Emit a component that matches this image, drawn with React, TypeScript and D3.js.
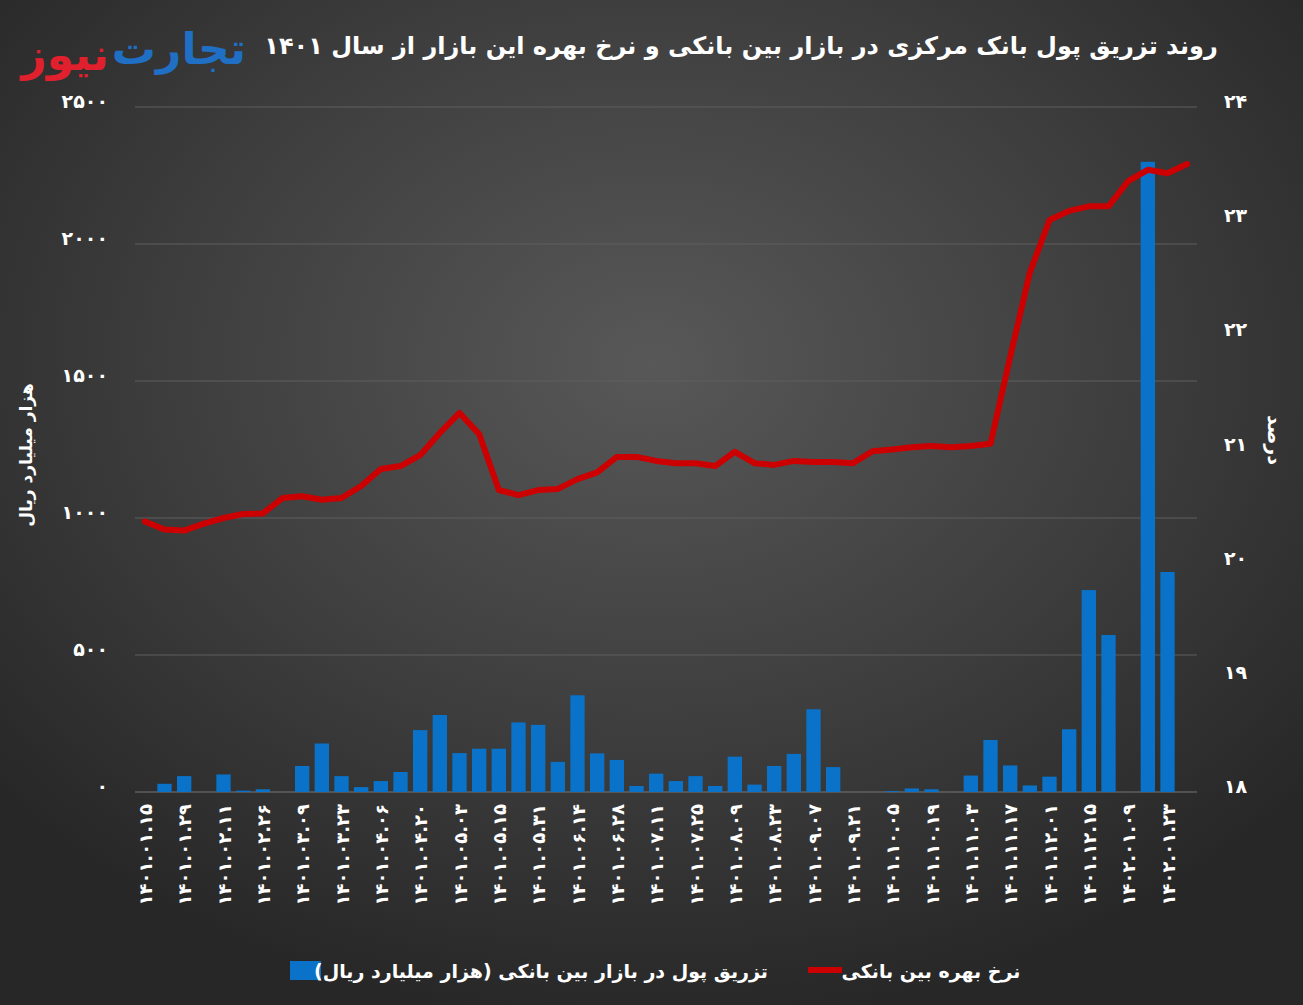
import React from "react";
import * as d3 from "d3";

const categories: string[] = [
  "1401.01.15", "1401.01.22", "1401.01.29", "1401.02.05", "1401.02.11", "1401.02.19",
  "1401.02.26", "1401.03.02", "1401.03.09", "1401.03.16", "1401.03.23", "1401.03.30",
  "1401.04.06", "1401.04.13", "1401.04.20", "1401.04.27", "1401.05.03", "1401.05.10",
  "1401.05.15", "1401.05.24", "1401.05.31", "1401.06.07", "1401.06.14", "1401.06.21",
  "1401.06.28", "1401.07.04", "1401.07.11", "1401.07.18", "1401.07.25", "1401.08.02",
  "1401.08.09", "1401.08.16", "1401.08.23", "1401.08.30", "1401.09.07", "1401.09.14",
  "1401.09.21", "1401.09.28", "1401.10.05", "1401.10.12", "1401.10.19", "1401.10.26",
  "1401.11.03", "1401.11.10", "1401.11.17", "1401.11.24", "1401.12.01", "1401.12.08",
  "1401.12.15", "1401.12.22", "1402.01.09", "1402.01.16", "1402.01.23", "1402.01.30",
];

// Injection (thousand billion rials)
const injection: (number | null)[] = [
  0, 30, 58, 0, 64, 5, 10, 0, 95, 177, 58, 18,
  40, 73, 226, 281, 142, 158, 158, 254, 245, 110, 353, 141,
  117, 22, 67, 40, 58, 22, 129, 27, 95, 139, 302, 91,
  0, 0, 3, 13, 10, 0, 60, 190, 97, 24, 56, 229,
  737, 573, 0, 2300, 803, 0,
];

// Interbank rate (percent)
const rate: number[] = [
  20.37, 20.3, 20.29, 20.35, 20.4, 20.435, 20.44, 20.575, 20.59, 20.56, 20.575, 20.68,
  20.83, 20.855, 20.95, 21.145, 21.32, 21.135, 20.645, 20.6, 20.645, 20.655, 20.74, 20.8,
  20.935, 20.935, 20.9, 20.88, 20.88, 20.855, 20.98, 20.88, 20.865, 20.9, 20.89, 20.89,
  20.88, 20.985, 21.0, 21.02, 21.03, 21.02, 21.03, 21.05, 21.81, 22.55, 23.01, 23.09,
  23.13, 23.13, 23.35, 23.45, 23.42, 23.5,
];

const leftTicks: number[] = [0, 500, 1000, 1500, 2000, 2500];
const rightTicks: number[] = [18, 19, 20, 21, 22, 23, 24];

const titleText = "روند تزریق پول بانک مرکزی در بازار بین بانکی و نرخ بهره این بازار از سال ۱۴۰۱";
const leftAxisTitle = "هزار میلیارد ریال";
const rightAxisTitle = "درصد";
const legendBars = "تزریق پول در بازار بین بانکی (هزار میلیارد ریال)";
const legendLine = "نرخ بهره بین بانکی";

const fa = (s: string | number) =>
  String(s).replace(/[0-9]/g, (d) => "۰۱۲۳۴۵۶۷۸۹"[+d]);

const W = 1303;
const H = 1005;
const plotL = 135;
const plotR = 1197;
const plotT = 107;
const plotB = 792;

const FONT = "'DejaVu Sans', sans-serif";

export default function App() {
  const x = d3.scaleBand<string>().domain(categories).range([plotL, plotR]).paddingInner(0.27).paddingOuter(0.135);
  const yL = d3.scaleLinear().domain([0, 2500]).range([plotB, plotT]);
  const yR = d3.scaleLinear().domain([18, 24]).range([plotB, plotT]);
  const bw = x.bandwidth();
  const cx = (c: string) => (x(c) as number) + bw / 2;

  const line = d3
    .line<number>()
    .x((_, i) => cx(categories[i]))
    .y((d) => yR(d))
    .curve(d3.curveLinear);

  return (
    <svg width={W} height={H} style={{ display: "block", position: "absolute", left: 0, top: 0 }}>
      <defs>
        <radialGradient id="bg" cx="50%" cy="36%" r="66%">
          <stop offset="0%" stopColor="#585858" />
          <stop offset="55%" stopColor="#3e3e3e" />
          <stop offset="100%" stopColor="#272727" />
        </radialGradient>
      </defs>
      <rect x={0} y={0} width={W} height={H} fill="url(#bg)" />

      {/* Logo */}
      <text x={179} y={64} fill="#1f6fc4" fontFamily={FONT} fontWeight={900} fontSize={44} textAnchor="middle">
        تجارت
      </text>
      <text x={65} y={70} fill="#e0202c" fontFamily={FONT} fontWeight={900} fontSize={44} textAnchor="middle">
        نیوز
      </text>

      {/* Title */}
      <text x={741} y={54} fill="#ffffff" fontFamily={FONT} fontWeight="bold" fontSize={24} textAnchor="middle" direction="rtl">
        {titleText}
      </text>

      {/* Gridlines */}
      {leftTicks.map((t) => (
        <line key={t} x1={plotL} x2={plotR} y1={yL(t)} y2={yL(t)} stroke={t === 0 ? "#777" : "#5e5e5e"} strokeWidth={1} />
      ))}

      {/* Left tick labels */}
      {leftTicks.map((t) => (
        <text key={"l" + t} x={108} y={yL(t) + 1} fill="#fff" fontFamily={FONT} fontWeight="bold" fontSize={19} textAnchor="end">
          {fa(t)}
        </text>
      ))}
      {/* Right tick labels */}
      {rightTicks.map((t) => (
        <text key={"r" + t} x={1224} y={yR(t) + 1} fill="#fff" fontFamily={FONT} fontWeight="bold" fontSize={19} textAnchor="start">
          {fa(t)}
        </text>
      ))}

      {/* Axis titles */}
      <text transform="translate(32,455) rotate(-90)" fill="#fff" fontFamily={FONT} fontSize={17} fontWeight="bold" textAnchor="middle" direction="rtl">
        {leftAxisTitle}
      </text>
      <text transform="translate(1268,440) rotate(90)" fill="#fff" fontFamily={FONT} fontSize={19} fontWeight="bold" textAnchor="middle" direction="rtl">
        {rightAxisTitle}
      </text>

      {/* Bars */}
      {injection.map((v, i) =>
        v && v > 0 ? (
          <rect key={"b" + i} x={x(categories[i])} y={yL(v)} width={bw} height={plotB - yL(v)} fill="#0a72c8" />
        ) : null
      )}

      {/* Line */}
      <path d={line(rate) || ""} fill="none" stroke="#cc0000" strokeWidth={6} strokeLinejoin="round" strokeLinecap="round" />

      {/* X labels */}
      {categories.map((c, i) =>
        i % 2 === 0 ? (
          <text
            key={"x" + i}
            transform={`translate(${cx(c) + 7},${plotB + 12}) rotate(-90)`}
            fill="#fff"
            fontFamily={FONT}
            fontWeight="bold"
            fontSize={18}
            letterSpacing={1.5}
            textAnchor="end"
          >
            {fa(c)}
          </text>
        ) : null
      )}

      {/* Legend */}
      <rect x={290} y={961} width={31} height={19} fill="#0a72c8" />
      <text x={541} y={978} fill="#fff" fontFamily={FONT} fontWeight="bold" fontSize={19} textAnchor="middle" direction="rtl">
        {legendBars}
      </text>
      <line x1={808} x2={842} y1={970} y2={970} stroke="#cc0000" strokeWidth={6} />
      <text x={931} y={978} fill="#fff" fontFamily={FONT} fontWeight="bold" fontSize={19} textAnchor="middle" direction="rtl">
        {legendLine}
      </text>
    </svg>
  );
}
